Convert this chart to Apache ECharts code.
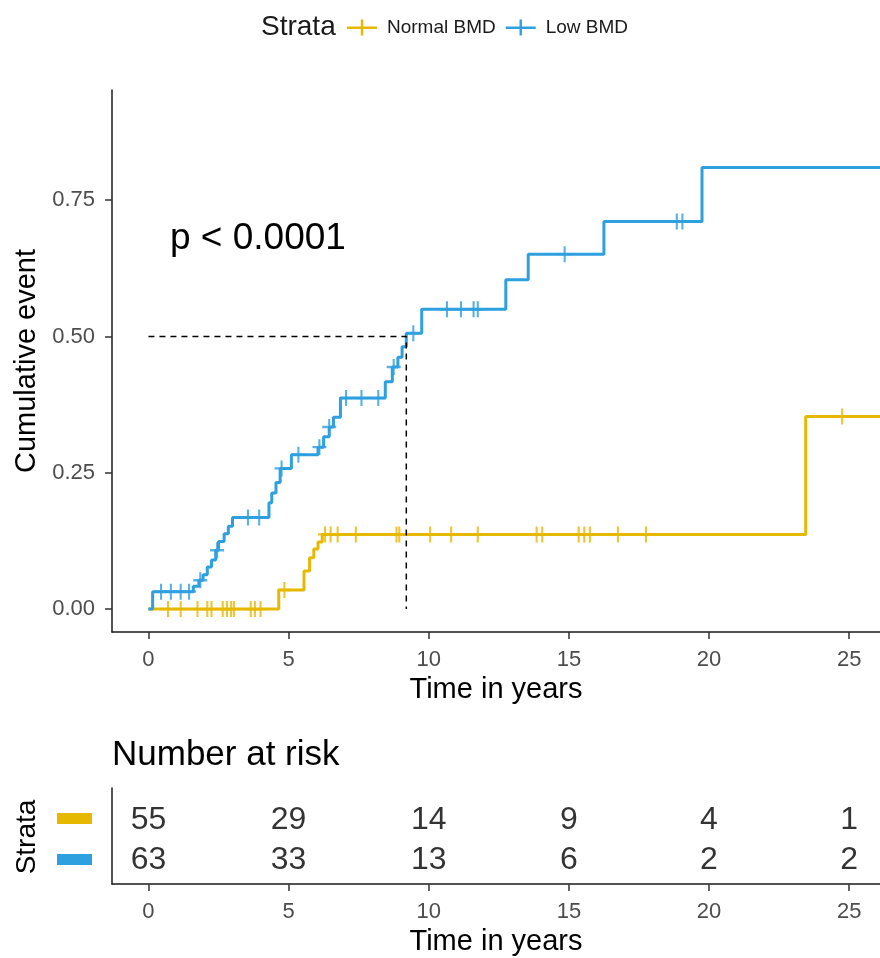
<!DOCTYPE html>
<html>
<head>
<meta charset="utf-8">
<script src="https://cdn.jsdelivr.net/npm/echarts@6/dist/echarts.min.js"></script>
<style>
  html, body { margin: 0; padding: 0; background: #fff; }
  #main { width: 880px; height: 958px; }
</style>
</head>
<body>
<div id="main"></div>
<script>
// cumulative event curves (step changes)
const normalTime = [0, 4.65, 5.55, 5.75, 5.9, 6.05, 6.2, 23.45, 26.1];
const normalEvent = [0, 0.035, 0.07, 0.094, 0.11, 0.123, 0.137, 0.353, 0.353];
const normalCensor = [0.7, 1.15, 1.75, 2.1, 2.25, 2.65, 2.8, 2.95, 3.05, 3.65, 3.8, 4.0,
  4.85, 6.3, 6.5, 6.75, 7.4, 8.85, 8.95, 10.05, 10.8, 11.75, 13.85, 14.05,
  15.35, 15.55, 15.75, 16.75, 17.75, 24.75];

const lowTime = [0, 0.15, 1.6, 1.8, 1.95, 2.1, 2.25, 2.4, 2.5, 2.7, 2.85, 3.0,
  4.3, 4.4, 4.55, 4.7, 5.1, 6.05, 6.25, 6.45, 6.6, 6.85, 8.45, 8.7, 8.9, 9.05,
  9.2, 9.75, 12.75, 13.55, 16.25, 19.75, 26.1];
const lowEvent = [0, 0.032, 0.042, 0.053, 0.063, 0.077, 0.09, 0.108, 0.124, 0.138, 0.152, 0.168,
  0.195, 0.213, 0.232, 0.258, 0.283, 0.297, 0.316, 0.334, 0.352, 0.387, 0.417, 0.444, 0.462, 0.481,
  0.506, 0.55, 0.604, 0.651, 0.711, 0.81, 0.81];
const lowCensor = [0.45, 0.8, 1.15, 1.45, 1.85, 2.45, 3.55, 3.95, 4.75, 5.35, 6.1, 6.45,
  7.05, 7.6, 8.2, 8.75, 9.45, 10.65, 11.15, 11.6, 11.75, 14.85, 18.85, 19.05];

const medianTime = 9.2;
const medianLevel = 0.5;
const pText = 'p < 0.0001';

// number at risk table
const riskTimes = [0, 5, 10, 15, 20, 25];
const riskNormal = [55, 29, 14, 9, 4, 1];
const riskLow = [63, 33, 13, 6, 2, 2];

const xTicks = [0, 5, 10, 15, 20, 25];
const yTicks = [0, 0.25, 0.5, 0.75];

const colNormal = '#E7B800';
const colLow = '#2E9FDF';
const font = 'Liberation Sans, Arial, sans-serif';
const crossPath = 'path://M-1,-0.15H1V0.15H-1Z M-0.15,-1H0.15V1H-0.15Z';
const legendIcon = 'path://M0,7H30V9.5H0Z M13.8,0H16.2V16H13.8Z';

function stepAt(times, values, t) {
  let v = values[0];
  for (let i = 0; i < times.length; i++) {
    if (times[i] <= t) v = values[i];
  }
  return v;
}

const zip = (a, b) => a.map((t, i) => [t, b[i]]);

const chart = echarts.init(document.getElementById('main'), null, { renderer: 'canvas' });

const xCommon = {
  type: 'value',
  min: -1.3,
  max: 26.1,
  splitLine: { show: false },
  axisLine: { onZero: false, lineStyle: { color: '#1a1a1a', width: 1.5 } },
  axisTick: { customValues: xTicks, length: 7, lineStyle: { color: '#333', width: 1.5 } },
  axisLabel: { customValues: xTicks, margin: 17, fontSize: 22, color: '#4d4d4d', fontFamily: font },
  name: 'Time in years',
  nameLocation: 'middle',
  nameGap: 43,
  nameTextStyle: { fontSize: 29, color: '#000', fontFamily: font }
};

const riskLabel = {
  show: true, position: 'inside', fontSize: 32, color: '#000', fontFamily: font,
  formatter: p => p.value[2]
};

const option = {
  animation: false,
  backgroundColor: '#fff',
  textStyle: { fontFamily: font },
  legend: {
    left: 342,
    top: 13,
    itemWidth: 30,
    itemHeight: 16,
    itemGap: 10,
    textStyle: { fontSize: 19, color: '#1a1a1a', fontFamily: font, padding: [0, 0, 0, 5] },
    data: [
      { name: 'Normal BMD', icon: legendIcon },
      { name: 'Low BMD', icon: legendIcon }
    ]
  },
  graphic: [
    { type: 'text', left: 261, top: 13, style: { text: 'Strata', fontSize: 28, fill: '#1a1a1a', fontFamily: font } },
    { type: 'text', left: 170, top: 220, style: { text: pText, fontSize: 37, fill: '#000', fontFamily: font } },
    { type: 'text', left: 112, top: 738, style: { text: 'Number at risk', fontSize: 35, fill: '#000', fontFamily: font } },
    { type: 'rect', shape: { x: 57, y: 813, width: 35, height: 11 }, style: { fill: colNormal } },
    { type: 'rect', shape: { x: 57, y: 854, width: 35, height: 11 }, style: { fill: colLow } },
    { type: 'text', x: 27, y: 837, rotation: Math.PI / 2,
      style: { text: 'Strata', fontSize: 28, fill: '#000', fontFamily: font, align: 'center', verticalAlign: 'middle' } }
  ],
  grid: [
    { left: 112, right: 0, top: 90, height: 542 },
    { left: 112, right: 0, top: 788, height: 96 }
  ],
  xAxis: [
    Object.assign({}, xCommon, { gridIndex: 0 }),
    Object.assign({}, xCommon, { gridIndex: 1 })
  ],
  yAxis: [
    {
      gridIndex: 0,
      type: 'value',
      min: -0.042,
      max: 0.952,
      splitLine: { show: false },
      axisLine: { show: true, onZero: false, lineStyle: { color: '#1a1a1a', width: 1.5 } },
      axisTick: { show: true, customValues: yTicks, length: 7, lineStyle: { color: '#333', width: 1.5 } },
      axisLabel: { customValues: yTicks, margin: 17, fontSize: 22, color: '#4d4d4d', fontFamily: font,
        formatter: v => v.toFixed(2) },
      name: 'Cumulative event',
      nameLocation: 'middle',
      nameGap: 69,
      nameTextStyle: { fontSize: 29, color: '#000', fontFamily: font }
    },
    {
      gridIndex: 1,
      type: 'value',
      min: 0,
      max: 1,
      splitLine: { show: false },
      axisLine: { show: true, onZero: false, lineStyle: { color: '#1a1a1a', width: 1.5 } },
      axisTick: { show: false },
      axisLabel: { show: false }
    }
  ],
  series: [
    {
      name: 'Normal BMD', type: 'line', step: 'end', showSymbol: false,
      color: colNormal, lineStyle: { width: 3 },
      data: zip(normalTime, normalEvent)
    },
    {
      name: 'Low BMD', type: 'line', step: 'end', showSymbol: false,
      color: colLow, lineStyle: { width: 3 },
      data: zip(lowTime, lowEvent)
    },
    {
      name: 'Normal BMD', type: 'scatter', symbol: crossPath, symbolSize: [14, 16],
      color: colNormal,
      data: normalCensor.map(t => [t, stepAt(normalTime, normalEvent, t)])
    },
    {
      name: 'Low BMD', type: 'scatter', symbol: crossPath, symbolSize: [14, 16],
      color: colLow,
      data: lowCensor.map(t => [t, stepAt(lowTime, lowEvent, t)])
    },
    {
      name: 'median', type: 'line', showSymbol: false, silent: true,
      lineStyle: { color: '#000', width: 1.5, type: [6, 5] },
      data: [[0, medianLevel], [medianTime, medianLevel], [medianTime, 0]],
      z: 5
    },
    {
      name: 'risk normal', type: 'scatter', xAxisIndex: 1, yAxisIndex: 1, symbolSize: 0,
      label: riskLabel,
      data: riskTimes.map((t, i) => [t, 0.667, riskNormal[i]])
    },
    {
      name: 'risk low', type: 'scatter', xAxisIndex: 1, yAxisIndex: 1, symbolSize: 0,
      label: riskLabel,
      data: riskTimes.map((t, i) => [t, 0.25, riskLow[i]])
    }
  ]
};

chart.setOption(option);
</script>
</body>
</html>
